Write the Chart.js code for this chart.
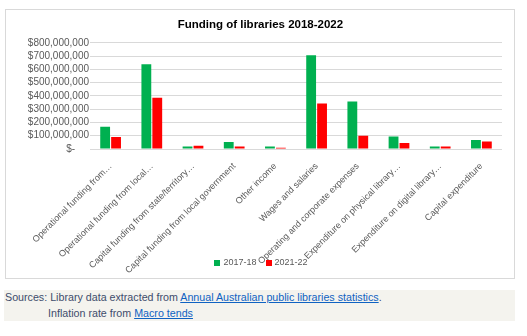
<!DOCTYPE html>
<html>
<head>
<meta charset="utf-8">
<script src="https://cdn.jsdelivr.net/npm/chart.js@4.4.1/dist/chart.umd.min.js"></script>
<style>
  html, body { margin: 0; padding: 0; background: #ffffff; width: 527px; height: 336px; overflow: hidden; }
  #box { position: absolute; left: 5px; top: 9px; width: 510px; height: 270px; box-sizing: border-box; border: 1px solid #d9d9d9; background: #fff; }
  #box canvas { display: block; }
  #foot { position: absolute; left: 4px; top: 290px; width: 511px; height: 31px; background: #f4f3ee; font-family: "Liberation Sans", Arial, sans-serif; font-size: 10.7px; color: #3e4c6c; }
  #foot .l1 { position: absolute; left: 1px; top: 1px; white-space: nowrap; }
  #foot .l2 { position: absolute; left: 44px; top: 17px; white-space: nowrap; }
  #foot a { color: #0f62c2; text-decoration: underline; }
</style>
</head>
<body>
<div id="box"><canvas id="c" width="508" height="268"></canvas></div>
<div id="foot">
  <div class="l1">Sources: Library data extracted from <a>Annual Australian public libraries statistics</a>.</div>
  <div class="l2">Inflation rate from <a>Macro tends</a></div>
</div>
<script>
const categories = [
  "Operational funding from…",
  "Operational funding from local…",
  "Capital funding from state/territory…",
  "Capital funding from local government",
  "Other income",
  "Wages and salaries",
  "Operating and corporate expenses",
  "Expenditure on physical library…",
  "Expenditure on digital library…",
  "Capital expenditure"
];
const seriesNames = ["2017-18", "2021-22"];
const values2017 = [167000000, 638000000, 18000000, 53000000, 18000000, 706000000, 357000000, 94000000, 18000000, 68000000];
const values2021 = [91000000, 387000000, 25000000, 18000000, 10000000, 342000000, 99000000, 46000000, 18000000, 56000000];
const yTicks = [0, 100000000, 200000000, 300000000, 400000000, 500000000, 600000000, 700000000, 800000000];

function fmt(v) {
  if (v === 0) return "$-     ";
  return "$" + v.toLocaleString("en-US");
}

// Legend drawn inside the label band (as in the reference, it sits beside the long rotated labels)
const bottomLegend = {
  id: "bottomLegend",
  afterDraw(chart) {
    const ctx = chart.ctx;
    const ds = chart.data.datasets;
    ctx.save();
    ctx.font = "9px 'Liberation Sans', Arial, sans-serif";
    const box = 6, gapText = 3, gapItem = 9;
    let total = 0;
    ds.forEach((d, i) => {
      total += box + gapText + ctx.measureText(d.label).width + (i < ds.length - 1 ? gapItem : 0);
    });
    const cy = 253;
    let x = 255 - total / 2;
    ds.forEach((d) => {
      ctx.fillStyle = d.backgroundColor;
      ctx.fillRect(Math.round(x), Math.round(cy - box / 2), box, box);
      x += box + gapText;
      ctx.fillStyle = "#595959";
      ctx.textBaseline = "middle";
      ctx.textAlign = "left";
      ctx.fillText(d.label, x, cy);
      x += ctx.measureText(d.label).width + gapItem;
    });
    ctx.restore();
  }
};

new Chart(document.getElementById("c"), {
  type: "bar",
  data: {
    labels: categories,
    datasets: [
      { label: seriesNames[0], data: values2017, backgroundColor: "#00b050", categoryPercentage: 0.53, barPercentage: 0.9 },
      { label: seriesNames[1], data: values2021, backgroundColor: "#ff0000", categoryPercentage: 0.53, barPercentage: 0.9 }
    ]
  },
  options: {
    responsive: false,
    animation: false,
    devicePixelRatio: 1,
    layout: { padding: { left: 0, right: 12, top: 0, bottom: 0 } },
    plugins: {
      title: {
        display: true,
        text: "    Funding of libraries 2018-2022",
        color: "#000000",
        font: { family: "Liberation Sans", size: 11.5, weight: "bold" },
        padding: { top: 8, bottom: 11 }
      },
      legend: { display: false },
      tooltip: { enabled: false }
    },
    scales: {
      x: {
        grid: { display: false },
        border: { display: false },
        ticks: {
          color: "#595959",
          font: { family: "Liberation Sans", size: 9 },
          minRotation: 45,
          maxRotation: 45,
          autoSkip: false,
          padding: 4
        },
        afterFit: (s) => { s.height = 129; }
      },
      y: {
        min: 0,
        max: 800000000,
        afterBuildTicks: (s) => { s.ticks = yTicks.map(v => ({ value: v })); },
        grid: { color: "#d9d9d9", lineWidth: 1, drawTicks: false },
        border: { display: false },
        ticks: {
          color: "#595959",
          font: { family: "Liberation Sans", size: 10 },
          padding: 1,
          autoSkip: false,
          callback: (v) => fmt(v)
        },
        afterFit: (s) => { s.width = 84; }
      }
    }
  },
  plugins: [bottomLegend]
});
</script>
</body>
</html>
